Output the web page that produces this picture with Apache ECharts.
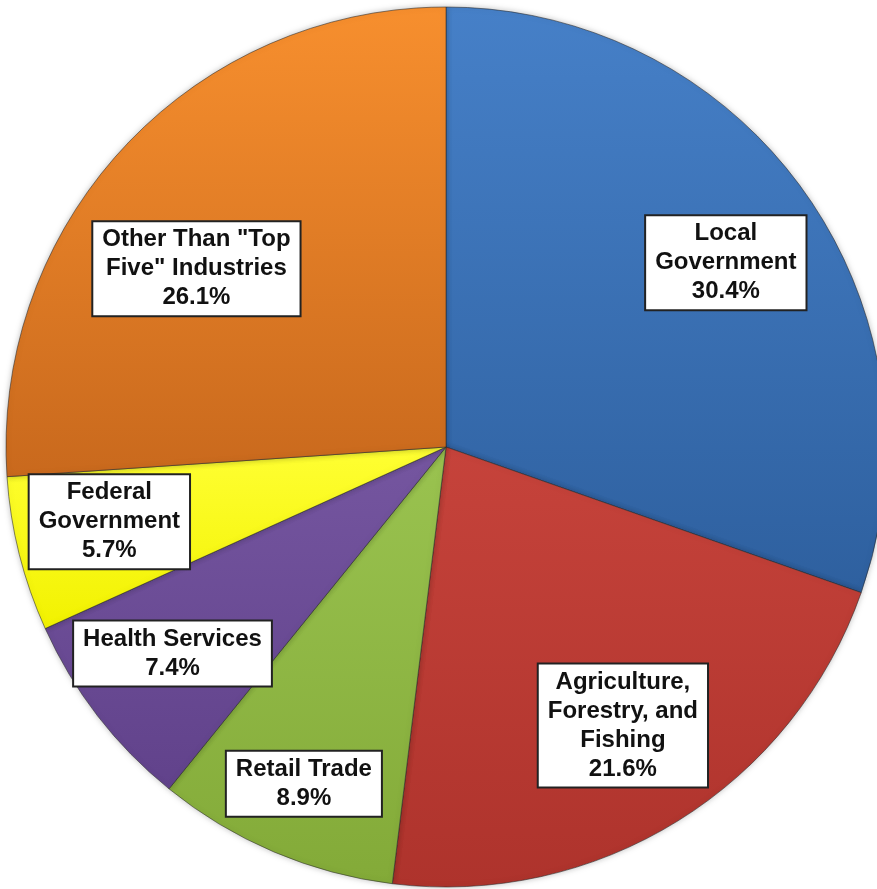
<!DOCTYPE html>
<html><head><meta charset="utf-8">
<script src="https://cdn.jsdelivr.net/npm/echarts@6/dist/echarts.min.js"></script>
<style>html,body{margin:0;padding:0;background:#fff}#c{width:877px;height:889px}</style>
</head><body><div id="c"></div>
<script>
const categories = ['Local\nGovernment', 'Agriculture,\nForestry, and\nFishing', 'Retail Trade', 'Health Services', 'Federal\nGovernment', 'Other Than "Top\nFive" Industries'];
const values = [30.4, 21.6, 8.9, 7.4, 5.7, 26.1];
const topColors = ['#4680c8', '#c6433b', '#9ac350', '#7556a0', '#ffff33', '#f78f2e'];
const bottomColors = ['#2e609f', '#ae332c', '#83aa38', '#61428b', '#f2f200', '#c9691d'];
// manual label nudges (Excel labels were hand-placed)
const labelNudge = [[0,14],[-4,-13],[-8,21],[-2,-3],[-4,-9],[1,56]];

function grad(i){
  return new echarts.graphic.LinearGradient(0,0,0,1,[{offset:0,color:topColors[i]},{offset:1,color:bottomColors[i]}]);
}
const chart = echarts.init(document.getElementById('c'));
const pieData = categories.map((n,i)=>({name:n, value:values[i], itemStyle:{color:grad(i)}}));
const labelData = categories.map((n,i)=>({name:n, value:values[i], label:{offset:labelNudge[i]}}));
chart.setOption({
  animation:false,
  series:[
    {type:'pie', center:[446,447], radius:440, startAngle:90, clockwise:true, silent:true,
     label:{show:false}, labelLine:{show:false},
     itemStyle:{borderColor:'rgba(40,40,40,0.55)', borderWidth:1, shadowBlur:6, shadowColor:'rgba(0,0,0,0.25)'},
     data:pieData},
    {type:'pie', center:[446,447], radius:[240,440], startAngle:90, clockwise:true, silent:true,
     itemStyle:{color:'rgba(0,0,0,0)'}, labelLine:{show:false},
     label:{show:true, position:'inside', formatter:p=>p.name+'\n'+p.value.toFixed(1)+'%',
       fontFamily:'Liberation Sans, Arial, sans-serif', fontWeight:'bold', fontSize:24, lineHeight:29,
       color:'#111', backgroundColor:'#fff', borderColor:'#222', borderWidth:2,
       padding:[4,9,2,9], align:'center'},
     data:labelData}
  ]
});
</script></body></html>
